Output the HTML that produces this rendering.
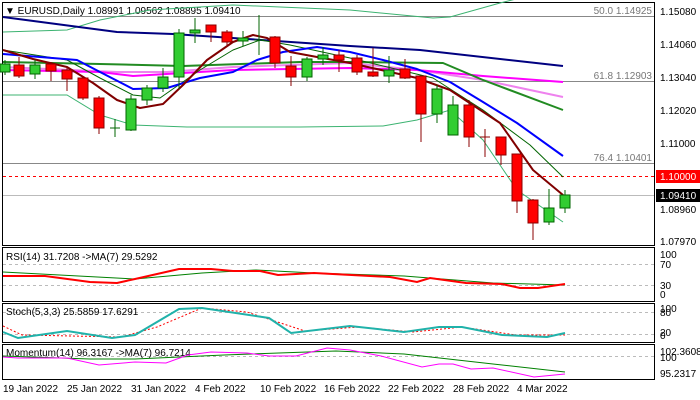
<!DOCTYPE html>
<html><head><meta charset="utf-8"><style>
body{margin:0;background:#fff}
svg{display:block;font-family:"Liberation Sans",sans-serif}
</style></head><body>
<svg width="700" height="400" viewBox="0 0 700 400" xmlns="http://www.w3.org/2000/svg">
<rect width="700" height="400" fill="#fff"/>
<!-- main panel -->
<rect x="2.5" y="2.5" width="652" height="243" fill="none" stroke="#000"/>
<line x1="3" y1="16.5" x2="654" y2="16.5" stroke="#888"/>
<line x1="3" y1="81.5" x2="654" y2="81.5" stroke="#888"/>
<line x1="3" y1="163.5" x2="654" y2="163.5" stroke="#888"/>
<line x1="3" y1="195.5" x2="654" y2="195.5" stroke="#bbb"/>
<line x1="3" y1="176.5" x2="654" y2="176.5" stroke="#f00" stroke-dasharray="3,3"/>
<g font-size="10" fill="#777" text-anchor="end">
<text x="652" y="14">50.0 1.14925</text>
<text x="652" y="79">61.8 1.12903</text>
<text x="652" y="161">76.4 1.10401</text>
</g>
<g font-size="10" fill="#000">
<text x="660" y="15">1.15080</text>
<text x="660" y="48">1.14060</text>
<text x="660" y="81">1.13040</text>
<text x="660" y="114">1.12020</text>
<text x="660" y="147">1.11000</text>
<text x="660" y="213">1.08960</text>
<text x="660" y="245">1.07970</text>
</g>
<rect x="656" y="170" width="44" height="13" fill="#f00"/>
<text x="660" y="180" font-size="10" fill="#fff">1.10000</text>
<rect x="656" y="189" width="44" height="13" fill="#000"/>
<text x="660" y="199" font-size="10" fill="#fff">1.09410</text>
<text x="5" y="14" font-size="10" fill="#000">▼ EURUSD,Daily  1.08991 1.09562 1.08895 1.09410</text>

<!-- bollinger -->
<g fill="none" stroke="#3cb371" stroke-width="1">
<polyline points="3,32 67,30 100,20 150,10 233,5 350,10 433,18 450,17 500,3 520,-2"/>
<polyline points="3,95 67,95 100,115 133,125 187,127 300,127 383,126 417,120 450,110 483,140 517,190 563,222"/>
</g>
<!-- MAs -->
<g fill="none" stroke-linejoin="round">
<polyline stroke="#000080" stroke-width="2" points="3,17 117,32 173,34 350,46 420,50 563,66"/>
<polyline stroke="#ee82ee" stroke-width="2" points="3,67 117,72 167,72 233,67 350,63 417,70 483,80 563,97"/>
<polyline stroke="#ff00ff" stroke-width="2" points="3,70 100,72 133,76 183,73 233,70 350,68 417,70 483,76 563,82"/>
<polyline stroke="#228b22" stroke-width="2" points="3,62 100,64 183,66 300,62 350,62 443,63 483,80 563,110"/>
<polyline stroke="#006400" stroke-width="1" points="3,50 67,60 100,78 133,95 160,98 200,70 233,50 260,40 290,45 350,58 433,78 483,110 530,145 563,177"/>
<polyline stroke="#0000ff" stroke-width="2" points="3,54 77,60 100,72 133,89 167,88 200,78 233,72 257,60 283,52 317,47 350,52 383,60 417,69 450,82 483,102 517,123 563,156"/>
<polyline stroke="#800000" stroke-width="2" points="3,50 33,59 67,67 93,83 117,100 140,108 163,104 183,85 207,60 233,42 253,35 267,38 290,52 317,57 350,63 417,78 450,90 500,123 533,170 563,195"/>
</g>
<!-- candles -->
<g stroke="#000" stroke-width="1">
<g id="c"></g>
</g>
<g stroke-width="1">
<line x1="5" y1="60" x2="5" y2="75" stroke="#006400"/><rect x="0" y="64" width="10" height="8" fill="#32cd32" stroke="#006400"/>
<line x1="19" y1="57" x2="19" y2="78" stroke="#8b0000"/><rect x="14" y="65" width="10" height="11" fill="#f00" stroke="#8b0000"/>
<line x1="35" y1="60" x2="35" y2="79" stroke="#006400"/><rect x="30" y="65" width="10" height="9" fill="#32cd32" stroke="#006400"/>
<line x1="51" y1="62" x2="51" y2="81" stroke="#8b0000"/><rect x="46" y="64" width="10" height="7" fill="#f00" stroke="#8b0000"/>
<line x1="67" y1="68" x2="67" y2="91" stroke="#8b0000"/><rect x="62" y="70" width="10" height="9" fill="#f00" stroke="#8b0000"/>
<line x1="83" y1="76" x2="83" y2="100" stroke="#8b0000"/><rect x="78" y="78" width="10" height="20" fill="#f00" stroke="#8b0000"/>
<line x1="99" y1="96" x2="99" y2="134" stroke="#8b0000"/><rect x="94" y="98" width="10" height="30" fill="#f00" stroke="#8b0000"/>
<line x1="115" y1="119" x2="115" y2="137" stroke="#006400"/><line x1="110" y1="128" x2="120" y2="128" stroke="#006400"/>
<line x1="131" y1="95" x2="131" y2="131" stroke="#006400"/><rect x="126" y="99" width="10" height="31" fill="#32cd32" stroke="#006400"/>
<line x1="147" y1="85" x2="147" y2="105" stroke="#006400"/><rect x="142" y="88" width="10" height="12" fill="#32cd32" stroke="#006400"/>
<line x1="163" y1="68" x2="163" y2="92" stroke="#006400"/><rect x="158" y="77" width="10" height="11" fill="#32cd32" stroke="#006400"/>
<line x1="179" y1="29" x2="179" y2="89" stroke="#006400"/><rect x="174" y="33" width="10" height="44" fill="#32cd32" stroke="#006400"/>
<line x1="195" y1="18" x2="195" y2="43" stroke="#006400"/><rect x="190" y="30" width="10" height="3" fill="#32cd32" stroke="#006400"/>
<line x1="211" y1="25" x2="211" y2="42" stroke="#8b0000"/><rect x="206" y="25" width="10" height="7" fill="#f00" stroke="#8b0000"/>
<line x1="227" y1="30" x2="227" y2="47" stroke="#8b0000"/><rect x="222" y="32" width="10" height="10" fill="#f00" stroke="#8b0000"/>
<line x1="243" y1="31" x2="243" y2="46" stroke="#006400"/><rect x="238" y="38" width="10" height="3" fill="#32cd32" stroke="#006400"/>
<line x1="259" y1="15" x2="259" y2="55" stroke="#006400"/><line x1="254" y1="40" x2="264" y2="40" stroke="#006400"/>
<line x1="275" y1="36" x2="275" y2="68" stroke="#8b0000"/><rect x="270" y="37" width="10" height="26" fill="#f00" stroke="#8b0000"/>
<line x1="291" y1="56" x2="291" y2="86" stroke="#8b0000"/><rect x="286" y="66" width="10" height="11" fill="#f00" stroke="#8b0000"/>
<line x1="307" y1="57" x2="307" y2="81" stroke="#006400"/><rect x="302" y="59" width="10" height="18" fill="#32cd32" stroke="#006400"/>
<line x1="323" y1="47" x2="323" y2="65" stroke="#006400"/><rect x="318" y="55" width="10" height="4" fill="#32cd32" stroke="#006400"/>
<line x1="339" y1="50" x2="339" y2="72" stroke="#8b0000"/><rect x="334" y="55" width="10" height="5" fill="#f00" stroke="#8b0000"/>
<line x1="357" y1="55" x2="357" y2="75" stroke="#8b0000"/><rect x="352" y="58" width="10" height="14" fill="#f00" stroke="#8b0000"/>
<line x1="373" y1="48" x2="373" y2="77" stroke="#8b0000"/><rect x="368" y="72" width="10" height="4" fill="#f00" stroke="#8b0000"/>
<line x1="389" y1="56" x2="389" y2="83" stroke="#006400"/><rect x="384" y="70" width="10" height="6" fill="#32cd32" stroke="#006400"/>
<line x1="405" y1="59" x2="405" y2="79" stroke="#8b0000"/><rect x="400" y="69" width="10" height="9" fill="#f00" stroke="#8b0000"/>
<line x1="421" y1="76" x2="421" y2="142" stroke="#8b0000"/><rect x="416" y="76" width="10" height="38" fill="#f00" stroke="#8b0000"/>
<line x1="437" y1="85" x2="437" y2="123" stroke="#006400"/><rect x="432" y="89" width="10" height="25" fill="#32cd32" stroke="#006400"/>
<line x1="453" y1="96" x2="453" y2="135" stroke="#006400"/><rect x="448" y="105" width="10" height="30" fill="#32cd32" stroke="#006400"/>
<line x1="469" y1="100" x2="469" y2="147" stroke="#8b0000"/><rect x="464" y="105" width="10" height="32" fill="#f00" stroke="#8b0000"/>
<line x1="485" y1="129" x2="485" y2="157" stroke="#8b0000"/><line x1="480" y1="137" x2="490" y2="137" stroke="#8b0000"/>
<line x1="501" y1="137" x2="501" y2="165" stroke="#8b0000"/><rect x="496" y="137" width="10" height="18" fill="#f00" stroke="#8b0000"/>
<line x1="517" y1="154" x2="517" y2="213" stroke="#8b0000"/><rect x="512" y="154" width="10" height="47" fill="#f00" stroke="#8b0000"/>
<line x1="533" y1="199" x2="533" y2="240" stroke="#8b0000"/><rect x="528" y="200" width="10" height="23" fill="#f00" stroke="#8b0000"/>
<line x1="549" y1="189" x2="549" y2="225" stroke="#006400"/><rect x="544" y="208" width="10" height="14" fill="#32cd32" stroke="#006400"/>
<line x1="565" y1="190" x2="565" y2="213" stroke="#006400"/><rect x="560" y="195" width="10" height="13" fill="#32cd32" stroke="#006400"/>
</g>

<!-- RSI -->
<rect x="2.5" y="247.5" width="652" height="54" fill="none" stroke="#000"/>
<g stroke="#bbb" stroke-dasharray="3,3"><line x1="3" y1="264.5" x2="654" y2="264.5"/><line x1="3" y1="285.5" x2="654" y2="285.5"/></g>
<g font-size="10" fill="#000"><text x="660" y="258">100</text><text x="660" y="268">70</text><text x="660" y="289">30</text><text x="660" y="298">0</text>
<text x="6" y="260">RSI(14) 31.7208  -&gt;MA(7) 29.5292</text></g>
<polyline fill="none" stroke="#008000" points="3,272 135,279 202,273 256,270 314,273 404,276 493,283 565,285"/>
<polyline fill="none" stroke="#f00" stroke-width="2" points="3,276 45,276 90,282 117,283 135,279 179,269 211,269 233,271 260,271 278,275 314,273 390,277 417,282 430,278 466,283 502,284 520,288 538,288 565,284"/>

<!-- Stoch -->
<rect x="2.5" y="303.5" width="652" height="39" fill="none" stroke="#000"/>
<g stroke="#bbb" stroke-dasharray="3,3"><line x1="3" y1="312.5" x2="654" y2="312.5"/><line x1="3" y1="334.5" x2="654" y2="334.5"/></g>
<g font-size="10" fill="#000"><text x="660" y="312">100</text><text x="660" y="316">80</text><text x="660" y="336">20</text><text x="660" y="339">0</text>
<text x="6" y="315">Stoch(5,3,3) 25.5859 17.6291</text></g>
<polyline fill="none" stroke="#f00" stroke-dasharray="2,2" points="3,326 22,335 121,337 157,327 202,308 247,312 305,331 359,327 413,332 462,327 516,335 565,335"/>
<polyline fill="none" stroke="#20b2aa" stroke-width="2" points="3,332 18,338 67,331 112,338 135,335 179,309 202,308 269,318 291,333 350,326 404,332 439,327 462,327 502,335 547,337 565,333"/>

<!-- Momentum -->
<rect x="2.5" y="344.5" width="652" height="35" fill="none" stroke="#000"/>
<line x1="3" y1="356.5" x2="654" y2="356.5" stroke="#bbb" stroke-dasharray="3,3"/>
<g font-size="10" fill="#000"><text x="660" y="355">102.3608</text><text x="660" y="361">100</text><text x="660" y="377">95.2317</text>
<text x="6" y="356">Momentum(14) 96.3167  -&gt;MA(7) 96.7214</text></g>
<polyline fill="none" stroke="#008000" points="3,356 90,359 135,359 224,355 336,351 404,354 493,364 565,372"/>
<polyline fill="none" stroke="#f0f" points="3,357 18,358 67,358 99,365 135,362 166,363 188,355 211,352 247,353 269,356 296,356 327,348 350,350 381,356 422,367 439,364 453,364 471,369 493,368 534,377 565,374"/>

<!-- dates -->
<g font-size="10" fill="#000">
<text x="3" y="392">19 Jan 2022</text><text x="67" y="392">25 Jan 2022</text><text x="131" y="392">31 Jan 2022</text>
<text x="195" y="392">4 Feb 2022</text><text x="260" y="392">10 Feb 2022</text><text x="324" y="392">16 Feb 2022</text>
<text x="388" y="392">22 Feb 2022</text><text x="453" y="392">28 Feb 2022</text><text x="517" y="392">4 Mar 2022</text>
</g>
</svg>
</body></html>
